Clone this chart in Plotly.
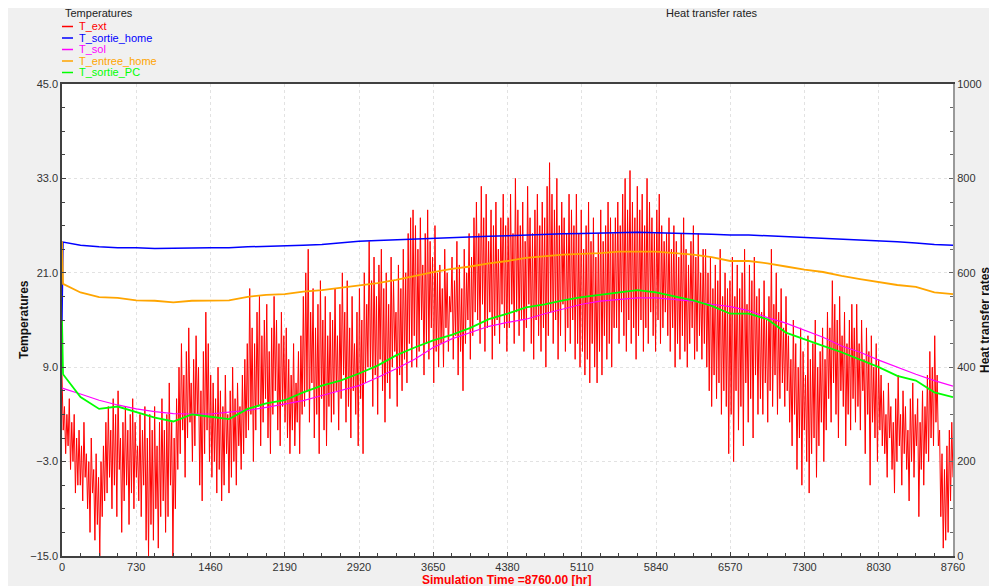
import numpy as np
import plotly.graph_objects as go

# ---- data ----------------------------------------------------------------
# daily extremes of the outdoor temperature (deg C), one value per day
T_EXT_DAILY_MAX = [
    8, 4, 3, 5, 2, 3, 0,
    1, -1, 2, -2, -3, 0, -4, -2, -5, -3, -1,
    2, 4, 1, 5, 3, 6, 0, 2, 4, 1, 3, 5, 2, -1, 3, 1, 4,
    0, 3, 1, 4, -1, 2, 5, 1, 3, 7, 2, 0,
    5, 9, 12, 8, 11, 14, 7, 10, 13, 9, 6, 11, 16, 12, 8,
    7, 5, 9, 6, 4, 8, 3, 6, 9, 5, 7, 4, 8, 10, 12,
    19, 14, 12, 16, 18, 13, 15, 17, 11, 14, 18, 15, 12, 16, 13,
    14, 10, 8, 12, 7, 11, 13,
    18, 21, 24, 16, 19, 14, 17, 20, 15, 18, 13, 16,
    15, 19, 13, 17, 21, 16, 20, 14, 18, 12, 16, 19, 15, 21, 17,
    25, 20, 23, 18, 22, 24, 19, 21, 17, 23, 20, 16, 22, 19, 24, 21, 26, 28,
    29, 27, 24, 28, 22, 26, 29, 25, 23, 27, 21,
    22, 19, 24, 21, 18, 23, 20, 25, 22, 19, 24, 21, 26, 23, 28,
    30, 26, 32, 28, 31, 25, 29, 27, 30, 24, 28, 31, 27,
    28, 31, 26, 33, 29, 27, 30, 25, 32, 28, 26, 29, 31,
    27, 30, 28, 32, 35, 31, 29, 33, 27, 30, 28, 26, 31, 29, 27,
    31, 26, 29, 24, 27, 30, 25, 28, 23, 26, 29, 25, 27, 30, 28, 26,
    28, 30, 27, 31, 33, 29, 34, 30, 28, 32, 29, 31, 27, 33, 30, 28, 26, 29, 31, 27, 25,
    26, 28, 24, 27, 25, 23, 26, 28, 24, 22, 25, 27, 23, 26, 21, 24,
    24, 21, 23, 19, 22, 20, 24, 18, 21, 19,
    20, 23, 18, 22, 19, 21, 24, 17, 22, 20, 23, 18,
    19, 16, 20, 15, 18, 24, 17, 21, 16, 19, 14, 18,
    13, 10, 15, 12, 9, 14, 11, 8, 13, 10, 12, 15, 9, 11, 14, 10,
    16, 14, 20, 17, 15, 18, 13, 16, 12, 15, 17, 14,
    17, 12, 15, 10, 14, 11, 13, 9, 12, 10, 8,
    6, 3, 7, 4, 2, 5, 8, 3, 6, 4, 1, 5, 7, 3, 5, 2, 6, 4, 8, 11, 9,
    13, 8, 1, -2, -4, -1, 1, 2,
]
T_EXT_DAILY_MIN = [
    1, -2, -1, -4, -3, -7, -6,
    -6, -8, -5, -9, -12, -7, -13, -11, -15, -10, -8,
    -7, -5, -9, -6, -10, -4, -12, -8, -6, -11, -7, -9, -5, -8, -10, -6, -13,
    -15, -11, -13, -9, -14, -10, -8, -12, -10, -6, -15, -9,
    -4, -2, 1, -5, 0, 2, -3, -1, 3, -6, -8, -2, 1, -3, -5,
    -3, -7, -4, -8, -6, -2, -7, -5, -3, -6, -1, -4, -2, 0, 1,
    3, -3, 1, 4, -1, 2, 5, 0, -2, 3, 6, 1, -1, 4, 2,
    0, -2, 1, -1, 2, -2, 3,
    4, 6, 2, 7, 0, 3, -2, 5, 1, -1, 4, 2,
    3, 6, 1, 5, 8, 2, 4, 0, 6, 3, -1, 5, -2, 7, 9,
    9, 4, 8, 3, 10, 6, 2, 7, 5, 9, 11, 4, 8, 6, 10, 7, 12, 9,
    13, 9, 11, 15, 8, 12, 10, 14, 7, 11, 9,
    12, 9, 14, 11, 16, 10, 13, 8, 11, 6, 12, 15, 10, 13, 16,
    15, 12, 17, 11, 14, 16, 10, 13, 15, 12, 17, 14, 11,
    14, 17, 12, 16, 13, 15, 11, 14, 17, 12, 10, 15, 13,
    11, 14, 9, 13, 16, 12, 15, 10, 13, 17, 11, 14, 12, 15, 10,
    12, 9, 11, 8, 10, 7, 12, 9, 7, 11, 8, 13, 10, 12, 9, 14,
    14, 12, 16, 13, 11, 15, 12, 14, 10, 13, 15, 11, 14, 12, 16, 13, 11, 15, 12, 14, 16,
    13, 11, 14, 9, 12, 10, 13, 11, 9, 12, 14, 10, 11, 13, 10, 12,
    9, 6, 4, 8, 5, 7, 3, 6, 4, -2,
    3, -3, 6, 1, 4, -1, 7, 2, 5, 0, 8, 3,
    5, 3, 7, 2, 6, 4, 8, 3, 5, 7, 4, 6,
    2, -1, 3, -4, 0, -6, 1, -3, -7, -2, 0, -5, -1, 2, -3, 1,
    5, 2, 7, 3, 0, 6, 4, -1, 3, 1, 5, 2,
    4, 1, 6, -2, 3, -6, 2, 0, -3, 1, -1,
    -2, -5, 0, -4, -7, -3, -1, -6, -2, -4, -8, -3, -5, -1, -10, -4, -6, -2, -3, 0, -1,
    2, -1, -10, -14, -13, -12, -8, -5,
]

# slowly varying outputs, sampled about every 182 h
HOURS = [0, 10, 182, 365, 547, 730, 912, 1095, 1277, 1460, 1642, 1825, 2007, 2190,
         2372, 2555, 2737, 2920, 3102, 3285, 3467, 3650, 3832, 4015, 4197, 4380,
         4562, 4745, 4927, 5110, 5292, 5475, 5657, 5840, 6022, 6205, 6387, 6570,
         6752, 6935, 7117, 7300, 7482, 7665, 7847, 8030, 8212, 8395, 8577, 8760]
T_SORTIE_HOME = [15.0, 24.9, 24.5, 24.3, 24.2, 24.2, 24.1, 24.1, 24.15, 24.2, 24.2, 24.3, 24.35, 24.4,
                 24.5, 24.6, 24.8, 25.0, 25.1, 25.2, 25.3, 25.4, 25.45, 25.55, 25.65, 25.7,
                 25.8, 25.9, 25.95, 26.0, 26.05, 26.1, 26.15, 26.1, 26.05, 26.0, 25.9, 25.8,
                 25.8, 25.7, 25.6, 25.5, 25.35, 25.3, 25.2, 25.1, 24.95, 24.8, 24.6, 24.5]
T_SOL = [6.4, 6.3, 5.6, 4.8, 4.2, 3.7, 3.35, 3.1, 3.05, 3.05, 3.3, 3.5, 3.9, 4.35,
         4.75, 5.4, 6.0, 6.65, 7.7, 8.8, 10.0, 11.5, 12.6, 13.4, 14.2, 14.7,
         15.1, 15.8, 16.4, 17.0, 17.4, 17.6, 17.8, 17.8, 17.6, 17.4, 17.0, 16.7,
         16.2, 15.3, 14.6, 13.7, 12.8, 11.7, 10.9, 9.9, 9.0, 8.1, 7.3, 6.6]
T_ENTREE_HOME = [25.0, 19.6, 18.5, 17.9, 17.8, 17.5, 17.45, 17.25, 17.45, 17.5, 17.5, 17.95, 18.2, 18.3,
                 18.6, 18.8, 19.1, 19.4, 19.7, 20.1, 20.6, 21.1, 21.5, 21.8, 22.2, 22.5,
                 22.9, 23.1, 23.3, 23.4, 23.5, 23.7, 23.7, 23.7, 23.5, 23.3, 23.0, 22.5,
                 22.5, 22.2, 21.8, 21.4, 21.1, 20.6, 20.2, 19.8, 19.45, 19.2, 18.5, 18.3]
T_SORTIE_PC = [15.0, 8.1, 5.2, 3.7, 4.0, 3.3, 2.6, 2.1, 3.0, 2.7, 2.4, 3.7, 4.4, 4.8,
               5.8, 6.65, 7.3, 8.2, 9.2, 10.5, 11.5, 12.4, 13.1, 14.0, 15.1, 15.8,
               16.6, 17.0, 17.5, 17.9, 18.2, 18.5, 18.8, 18.5, 18.0, 17.5, 16.8, 15.8,
               15.8, 15.1, 13.4, 12.5, 11.7, 10.9, 10.0, 9.0, 7.9, 7.3, 5.8, 5.2]

SERIES = ["T_ext", "T_sortie_home", "T_sol", "T_entree_home", "T_sortie_PC"]
COLORS = ["#ff0000", "#0000ff", "#ff00ff", "#ffa500", "#00ff00"]

# ---- layout (page has an 8px margin around the figure) ---------------------
OFF = 8
W, H = 997 - OFF, 586 - OFF
L, T = 62 - OFF, 84 - OFF
R, B = W - (953 - OFF), H - (556 - OFF)
PW, PH = W - L - R, H - T - B


def px(x):
    # page pixel -> paper x
    return (x - OFF - L) / PW


def py(y):
    # page pixel -> paper y
    return 1 - (y - OFF - T) / PH


FONT = "Liberation Sans, Arial, sans-serif"

# outdoor temperature: max then min for each day, spread over the year
t_ext = [v for pair in zip(T_EXT_DAILY_MAX, T_EXT_DAILY_MIN) for v in pair]
t_ext_hours = np.linspace(0, 8760, len(t_ext))

fig = go.Figure()
fig.add_trace(go.Scatter(x=t_ext_hours, y=t_ext, mode="lines", name=SERIES[0],
                         line=dict(color=COLORS[0], width=1)))
widths = [1.5, 1.2, 1.8, 1.8]
for name, vals, col, w in zip(SERIES[1:], [T_SORTIE_HOME, T_SOL, T_ENTREE_HOME, T_SORTIE_PC],
                              COLORS[1:], widths):
    fig.add_trace(go.Scatter(x=HOURS, y=vals, mode="lines", name=name,
                             line=dict(color=col, width=w)))

# invisible helper so the right axis is drawn
fig.add_trace(go.Scatter(x=[0], y=[0], yaxis="y2", mode="markers",
                         marker=dict(opacity=0), hoverinfo="skip", showlegend=False))

axis_common = dict(
    showline=True, linecolor="#404040", linewidth=1.5,
    ticks="inside", ticklen=4, tickcolor="#404040",
    tickfont=dict(size=11, color="#333333", family=FONT),
    zeroline=False, gridcolor="#e2e2e2", griddash="3px,3px", gridwidth=1,
)

fig.update_layout(
    width=W, height=H,
    margin=dict(l=L, r=R, t=T, b=B),
    paper_bgcolor="#f0f0f0", plot_bgcolor="white",
    showlegend=False,
    font=dict(family=FONT, size=11, color="#222222"),
    xaxis=dict(range=[0, 8760], tick0=0, dtick=730, mirror=True, showgrid=True,
               minor=dict(ticks="inside", ticklen=3, dtick=182.5, tickcolor="#404040", showgrid=False),
               **axis_common),
    yaxis=dict(range=[-15, 45], tick0=-15, dtick=12, tickformat=".1f", showgrid=True,
               minor=dict(ticks="inside", ticklen=3, dtick=3, tickcolor="#404040", showgrid=False),
               **axis_common),
    yaxis2=dict(range=[0, 1000], tick0=0, dtick=200, overlaying="y", side="right",
                showgrid=False, showline=True, linecolor="#999999", linewidth=2,
                ticks="inside", ticklen=4, tickcolor="#666666", zeroline=False,
                minor=dict(ticks="inside", ticklen=3, dtick=50, tickcolor="#666666"),
                tickfont=dict(size=11, color="#333333", family=FONT)),
)

shapes = []
annotations = [
    dict(text="Temperatures", x=px(63), y=py(13), xanchor="left", yanchor="middle",
         font=dict(size=11, color="#222222")),
    dict(text="Heat transfer rates", x=px(664), y=py(13), xanchor="left", yanchor="middle",
         font=dict(size=11, color="#222222")),
    dict(text="<b>Temperatures</b>", x=px(24), y=py(320), textangle=-90,
         xanchor="center", yanchor="middle", font=dict(size=12, color="#111111")),
    dict(text="<b>Heat transfer rates</b>", x=px(985), y=py(320), textangle=-90,
         xanchor="center", yanchor="middle", font=dict(size=12, color="#111111")),
    dict(text="<b>Simulation Time =8760.00 [hr]</b>", x=px(507), y=py(580),
         xanchor="center", yanchor="middle", font=dict(size=12, color="#ff0000")),
]
legend_y = [26.5, 38, 49.5, 61, 72.5]
for name, col, yy in zip(SERIES, COLORS, legend_y):
    shapes.append(dict(type="line", xref="paper", yref="paper", x0=px(62), x1=px(73),
                       y0=py(yy), y1=py(yy), line=dict(color=col, width=1.5)))
    annotations.append(dict(text=name, x=px(76.5), y=py(yy), xanchor="left", yanchor="middle",
                            font=dict(size=11, color=col)))
for a in annotations:
    a.update(xref="paper", yref="paper", showarrow=False)

fig.update_layout(shapes=shapes, annotations=annotations)
fig.write_html("out.html")
